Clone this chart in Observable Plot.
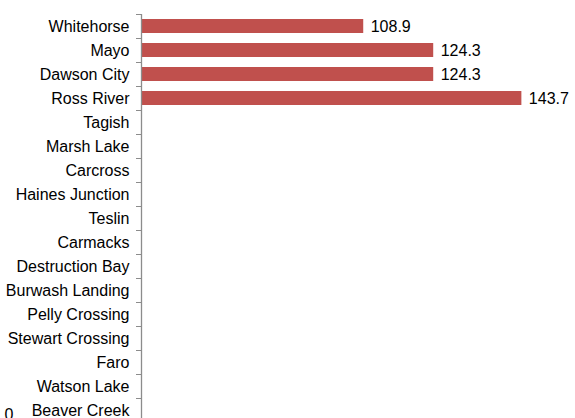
<!DOCTYPE html>
<html>
<head>
<meta charset="utf-8">
<script src="https://cdn.jsdelivr.net/npm/d3@7"></script>
<script src="https://cdn.jsdelivr.net/npm/@observablehq/plot@0.6"></script>
<style>
  html, body { margin: 0; padding: 0; background: #fff; overflow: hidden; }
  svg { display: block; }
</style>
</head>
<body>
<div id="chart"></div>
<script>
const communities = ["Whitehorse", "Mayo", "Dawson City", "Ross River", "Tagish", "Marsh Lake", "Carcross", "Haines Junction", "Teslin", "Carmacks", "Destruction Bay", "Burwash Landing", "Pelly Crossing", "Stewart Crossing", "Faro", "Watson Lake", "Beaver Creek"];
const values = [108.9, 124.3, 124.3, 143.7, null, null, null, null, null, null, null, null, null, null, null, null, null];
const xDomain = [60, 155.5];

const data = communities.map((c, i) => ({community: c, value: values[i]}));
const withValues = data.filter(d => d.value != null);

const chart = Plot.plot({
  width: 575,
  height: 418,
  marginLeft: 141,
  marginRight: 0,
  marginTop: 14,
  marginBottom: 0,
  style: {fontFamily: "'Liberation Sans', Arial, sans-serif", fontSize: "16px", color: "#000", background: "#fff"},
  x: {domain: xDomain, axis: null},
  y: {domain: communities, range: [14, 422], padding: 0, axis: null, label: null},
  marks: [
    Plot.barX(withValues, {x1: xDomain[0], x2: "value", y: "community", fill: "#C0504D", insetTop: 5, insetBottom: 5}),
    Plot.text(withValues, {x: "value", y: "community", text: d => d.value.toFixed(1), textAnchor: "start", dx: 7, fill: "#000", fontSize: 16}),
    Plot.axisY({tickSize: 5, text: null, dy: -12, stroke: "#8c8c8c", tickPadding: 0, label: null}),
    Plot.axisY({tickSize: 0, tickPadding: 12, fontSize: 16, fill: "#000", label: null}),
    Plot.ruleX([xDomain[0]], {stroke: "#8c8c8c", strokeWidth: 1.3}),
    Plot.text(["0"], {frameAnchor: "bottom-left", dx: -137, dy: -10, text: d => d, fontSize: 16, fill: "#000", textAnchor: "start", lineAnchor: "top"})
  ]
});
document.getElementById("chart").appendChild(chart);
</script>
</body>
</html>
